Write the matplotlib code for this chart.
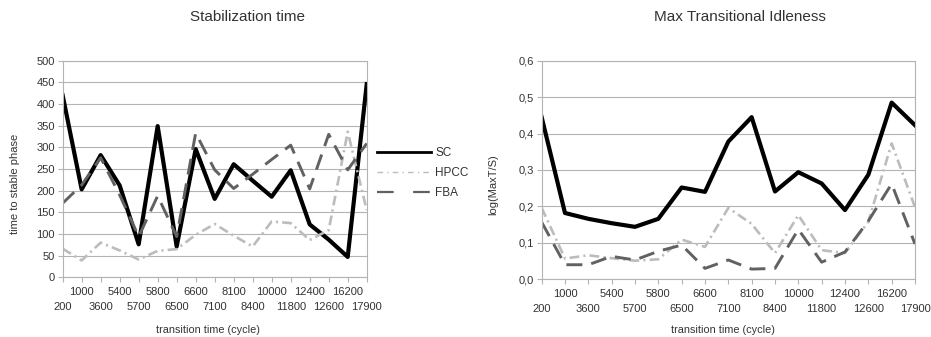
import matplotlib
matplotlib.use("Agg")
import matplotlib.pyplot as plt
from matplotlib.lines import Line2D
from matplotlib.ticker import FuncFormatter

plt.rcParams["font.family"] = ["Liberation Sans", "DejaVu Sans"]
plt.rcParams["lines.scale_dashes"] = False

# transition times (categories on the x axis)
cats = [200, 1000, 3600, 5400, 5700, 5800, 6500, 6600, 7100, 8100,
        8400, 10000, 11800, 12400, 12600, 16200, 17900]

# Stabilization time
stab_sc = [420, 203, 282, 212, 76, 349, 71, 296, 181, 261, 223, 186, 247, 122, 87, 47, 446]
stab_hpcc = [66, 39, 80, 62, 41, 61, 65, 98, 123, 96, 71, 129, 125, 86, 109, 336, 155]
stab_fba = [171, 213, 276, 190, 94, 188, 94, 333, 248, 205, 238, 272, 305, 204, 330, 248, 309]

# Max transitional idleness
idle_sc = [0.445, 0.182, 0.166, 0.154, 0.144, 0.166, 0.252, 0.240, 0.378, 0.445,
           0.241, 0.294, 0.263, 0.190, 0.287, 0.485, 0.423]
idle_hpcc = [0.196, 0.057, 0.066, 0.058, 0.051, 0.055, 0.109, 0.089, 0.196, 0.152,
             0.072, 0.176, 0.080, 0.072, 0.158, 0.373, 0.198]
idle_fba = [0.157, 0.040, 0.040, 0.063, 0.053, 0.077, 0.094, 0.030, 0.053, 0.028,
            0.030, 0.137, 0.047, 0.075, 0.160, 0.262, 0.097]

series_names = ["SC", "HPCC", "FBA"]

GRID = "#b3b3b3"
TXT = "#333333"
styles = {
    "SC": dict(color="black", lw=3.0, ls="-"),
    "HPCC": dict(color="#bcbcbc", lw=1.9, dashes=(7, 3, 1.5, 3)),
    "FBA": dict(color="#616161", lw=2.1, dashes=(11.5, 6.5)),
}

fig = plt.figure(figsize=(9.31, 3.37), dpi=100)
ax1 = fig.add_axes([0.0673, 0.1772, 0.3266, 0.6427])
ax2 = fig.add_axes([0.5818, 0.1712, 0.4010, 0.6487])

x = list(range(len(cats)))
# odd categories on the upper row (major ticks), even ones on the lower row (minor ticks)
upper = [i for i in x if i % 2]
lower = [i for i in x if i % 2 == 0]


def style_axes(ax, ymax, ystep):
    ax.set_xlim(0, len(cats) - 1)
    ax.set_ylim(0, ymax)
    n = int(round(ymax / ystep))
    ax.set_yticks([i * ystep for i in range(n + 1)])
    ax.set_xticks(upper)
    ax.set_xticklabels([str(cats[i]) for i in upper])
    ax.set_xticks(lower, minor=True)
    ax.set_xticklabels([str(cats[i]) for i in lower], minor=True)
    ax.yaxis.grid(True, color=GRID, lw=0.8)
    ax.set_axisbelow(True)
    for s in ax.spines.values():
        s.set_color(GRID)
        s.set_linewidth(0.8)
    ax.tick_params(axis="both", which="both", colors=GRID, labelcolor=TXT,
                   labelsize=8, length=3.5, width=0.8)
    ax.tick_params(axis="x", which="major", pad=3.5)
    ax.tick_params(axis="x", which="minor", pad=14.3)
    ax.tick_params(axis="y", pad=2)


for ax, data in [(ax1, [stab_sc, stab_hpcc, stab_fba]),
                 (ax2, [idle_sc, idle_hpcc, idle_fba])]:
    for name, vals in zip(series_names, data):
        ax.plot(x, vals, **styles[name])

style_axes(ax1, 500, 50)
style_axes(ax2, 0.6, 0.1)
ax2.yaxis.set_major_formatter(FuncFormatter(lambda v, p: f"{v:.1f}".replace(".", ",")))

# titles and axis labels
fig.text(248 / 931, 1 - 17 / 337, "Stabilization time", ha="center", va="center",
         fontsize=11, color=TXT)
fig.text(740 / 931, 1 - 17 / 337, "Max Transitional Idleness", ha="center", va="center",
         fontsize=11, color=TXT)
fig.text(15 / 931, 1 - 184 / 337, "time to stable phase", rotation=90, ha="center",
         va="center", fontsize=8, color=TXT)
fig.text(493 / 931, 1 - 185 / 337, "log(MaxT/S)", rotation=90, ha="center",
         va="center", fontsize=8, color=TXT)
fig.text(208 / 931, 1 - 330 / 337, "transition time (cycle)", ha="center", va="center",
         fontsize=7.8, color=TXT)
fig.text(723 / 931, 1 - 330 / 337, "transition time (cycle)", ha="center", va="center",
         fontsize=7.8, color=TXT)

# legend (thinner lines than in the plot)
handles = [
    Line2D([], [], color="black", lw=2.0),
    Line2D([], [], color="#bcbcbc", lw=1.0, dashes=(4, 3, 1, 3)),
    Line2D([], [], color="#616161", lw=1.6, dashes=(12, 14)),
]
fig.legend(handles, series_names, loc="center left",
           bbox_to_anchor=(366 / 931, 1 - 173 / 337), frameon=False,
           fontsize=8.5, handlelength=4.6, handletextpad=0.35, labelspacing=0.65,
           labelcolor=TXT)

fig.savefig("out.png", dpi=100)
